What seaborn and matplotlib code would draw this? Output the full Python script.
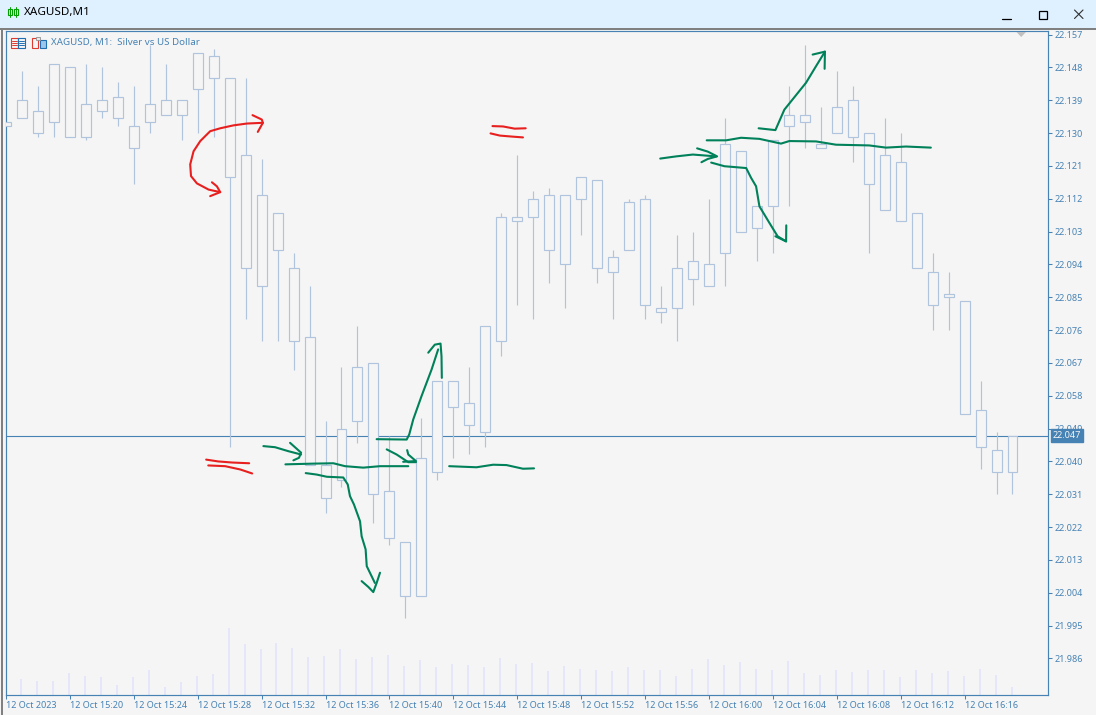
import pandas as pd
import matplotlib
matplotlib.use("Agg")
import matplotlib.pyplot as plt
from matplotlib.patches import Rectangle, Polygon
import seaborn as sns

# candles in points above 22.000 (1 point = 0.001), one bar per minute from 15:16
highs = [133, 147, 143, 149, 148, 149, 148, 144, 143, 154, 149, 139, 152, 153, 145, 145,
         123, 108, 97, 88, 51, 66, 77, 67, 47, 18, 52, 62, 62, 66, 77, 108,
         124, 114, 115, 113, 118, 117, 98, 112, 113, 88, 102, 103, 112, 134,
         125, 110, 128, 143, 154, 137, 147, 143, 130, 134, 130, 108, 97, 92, 84, 62, 48, 47]
body_top = [133, 139, 136, 149, 148, 138, 139, 140, 132, 138, 139, 139, 152, 151, 145, 124,
            113, 108, 93, 74, 39, 49, 66, 67, 32, 18, 41, 62, 62, 56, 77, 107,
            107, 112, 113, 113, 118, 117, 96, 111, 112, 82, 93, 95, 94, 127,
            125, 110, 128, 135, 135, 127, 137, 139, 130, 124, 122, 108, 92, 86, 84, 54, 43, 47]
body_bottom = [132, 134, 130, 133, 129, 129, 136, 134, 126, 133, 135, 135, 142, 145, 118, 93,
               88, 98, 73, 39, 30, 35, 51, 31, 19, 3, 3, 37, 55, 50, 48, 73,
               106, 107, 98, 94, 112, 93, 92, 98, 83, 81, 82, 90, 88, 97,
               103, 104, 110, 132, 133, 126, 130, 129, 116, 109, 106, 93, 83, 85, 53, 44, 37, 37]
lows = [132, 134, 129, 129, 129, 128, 134, 132, 116, 130, 135, 128, 130, 129, 44, 79,
        73, 73, 65, 39, 26, 33, 45, 23, 17, -3, 3, 35, 41, 42, 44, 69,
        83, 79, 89, 82, 102, 89, 79, 98, 79, 78, 73, 83, 88, 88,
        103, 95, 97, 110, 126, 126, 130, 122, 97, 109, 106, 93, 76, 76, 53, 38, 31, 31]
volumes = [0, 16, 14, 14, 22, 19, 18, 10, 18, 25, 8, 13, 19, 21, 67, 51,
           46, 52, 47, 38, 39, 46, 36, 38, 40, 29, 35, 28, 31, 30, 28, 37,
           31, 32, 24, 29, 26, 25, 24, 28, 25, 25, 19, 26, 36, 30,
           33, 26, 25, 34, 22, 20, 25, 23, 25, 25, 18, 25, 22, 24, 19, 26, 20, 8]
last_price = 22.047

price_ticks = [22.157, 22.148, 22.139, 22.130, 22.121, 22.112, 22.103, 22.094, 22.085, 22.076,
               22.067, 22.058, 22.049, 22.040, 22.031, 22.022, 22.013, 22.004, 21.995, 21.986]
time_ticks = [0, 4, 8, 12, 16, 20, 24, 28, 32, 36, 40, 44, 48, 52, 56, 60]
time_labels = ["12 Oct 2023", "12 Oct 15:20", "12 Oct 15:24", "12 Oct 15:28", "12 Oct 15:32",
               "12 Oct 15:36", "12 Oct 15:40", "12 Oct 15:44", "12 Oct 15:48", "12 Oct 15:52",
               "12 Oct 15:56", "12 Oct 16:00", "12 Oct 16:04", "12 Oct 16:08", "12 Oct 16:12",
               "12 Oct 16:16"]

# hand drawn ink, as (bar index, price)
red_ink = [
    ([16.08, 15.08, 14.24, 13.41, 12.78, 12.16, 11.74, 11.53, 11.58, 11.95, 12.68, 13.41],
     [22.1328, 22.1326, 22.1321, 22.1313, 22.1305, 22.1278, 22.1250, 22.1214, 22.1182, 22.1162, 22.1145, 22.1138]),
    ([15.43, 16.01, 16.08, 15.76], [22.1349, 22.1337, 22.1328, 22.1303]),
    ([12.89, 13.20, 13.41, 12.78], [22.1165, 22.1154, 22.1138, 22.1127]),
    ([30.45, 31.11, 31.84, 32.53], [22.1319, 22.1318, 22.1312, 22.1313]),
    ([30.33, 30.91, 31.74, 32.36], [22.1299, 22.1293, 22.1290, 22.1288]),
    ([12.53, 13.28, 14.16, 15.22], [22.0405, 22.0400, 22.0397, 22.0395]),
    ([12.66, 13.72, 14.66, 15.41], [22.0389, 22.0387, 22.0378, 22.0367]),
]
green_ink = [
    ([16.11, 16.84, 17.68, 18.47], [22.0442, 22.0439, 22.0428, 22.0419]),
    ([17.78, 18.47, 18.34, 17.99], [22.0451, 22.0424, 22.0410, 22.0403]),
    ([17.49, 19.24, 20.49, 21.22, 22.36, 23.41, 25.18],
     [22.0392, 22.0394, 22.0395, 22.0387, 22.0383, 22.0387, 22.0387]),
    ([18.76, 19.45, 20.08, 21.11, 21.39, 21.53, 21.78, 22.16, 22.26, 22.51, 22.58, 23.09],
     [22.0368, 22.0364, 22.0358, 22.0356, 22.0337, 22.0305, 22.0282, 22.0236, 22.0195, 22.0159, 22.0113, 22.0067]),
    ([22.26, 22.68, 22.99, 23.20, 23.41], [22.0072, 22.0056, 22.0042, 22.0067, 22.0095]),
    ([23.20, 25.08, 25.24, 25.49, 26.01, 26.64, 27.05],
     [22.0461, 22.0460, 22.0474, 22.0515, 22.0579, 22.0652, 22.0707]),
    ([26.43, 26.84, 27.20, 27.26, 27.28], [22.0698, 22.0720, 22.0723, 22.0688, 22.0629]),
    ([23.83, 24.45, 25.18, 25.66], [22.0433, 22.0419, 22.0398, 22.0398]),
    ([25.11, 25.18, 25.66, 24.86], [22.0431, 22.0419, 22.0401, 22.0399]),
    ([27.74, 29.45, 30.49, 31.33, 32.36, 33.05], [22.0387, 22.0384, 22.0391, 22.0390, 22.0380, 22.0381]),
    ([40.95, 41.95, 42.99, 44.45], [22.1230, 22.1236, 22.1241, 22.1236]),
    ([43.26, 43.93, 44.51, 43.93, 43.53], [22.1258, 22.1249, 22.1236, 22.1229, 22.1220]),
    ([43.86, 45.08, 46.01, 47.16, 48.51, 49.03, 50.70, 51.95, 54.03, 55.08, 56.33, 57.89],
     [22.1280, 22.1280, 22.1287, 22.1284, 22.1271, 22.1278, 22.1277, 22.1268, 22.1266, 22.1260, 22.1263, 22.1260]),
    ([44.14, 44.97, 46.33, 46.64, 46.95, 47.16, 47.78, 48.30, 48.83],
     [22.1219, 22.1209, 22.1204, 22.1177, 22.1154, 22.1099, 22.1054, 22.1017, 22.1003]),
    ([48.16, 48.83, 48.84], [22.1017, 22.1003, 22.1047]),
    ([47.11, 48.16, 48.72, 50.08, 50.70, 51.26], [22.1313, 22.1308, 22.1364, 22.1438, 22.1483, 22.1523]),
    ([50.49, 51.26, 51.24], [22.1515, 22.1523, 22.1476]),
]

BG = "#f5f5f5"
STEEL = "#4682b4"
CANDLE = "#b0c4de"
VOLUME = "#e6e6fa"
GREEN = "#00815a"
RED = "#e81f1f"
FONT = ["Noto Sans", "DejaVu Sans"]
X_LIMITS = (0.0925, 65.2225)


def to_price(points):
    return [22 + p / 1000 for p in points]


def draw_candles(ax, df):
    ax.axhline(last_price, color=STEEL, lw=0.8, zorder=1)
    ax.vlines(df["bar"], df["low"], df["high"], color=CANDLE, lw=0.85, zorder=2)
    # the fill hides the wick and the price line behind the body
    ax.bar(df["bar"], df["top"] - df["bottom"], bottom=df["bottom"], width=0.625,
           facecolor=BG, edgecolor=CANDLE, linewidth=0.85, zorder=3)


def draw_ink(ax):
    for xs, ys in red_ink:
        sns.lineplot(x=xs, y=ys, ax=ax, sort=False, estimator=None, color=RED, lw=1.5, zorder=6)
    for xs, ys in green_ink:
        sns.lineplot(x=xs, y=ys, ax=ax, sort=False, estimator=None, color=GREEN, lw=1.5, zorder=6)


def draw_window(fig):
    # title bar and icons around the chart, in screen pixels
    ui = fig.add_axes([0, 0, 1, 1], zorder=5)
    ui.set_xlim(0, 1096)
    ui.set_ylim(715, 0)
    ui.axis("off")
    ui.add_patch(Rectangle((0, 0), 1096, 27.5, fc="#dff0fe", ec="none"))
    ui.add_patch(Rectangle((0, 27.5), 1096, 2, fc="#808080", ec="none"))
    ui.add_patch(Rectangle((1, 27.5), 2, 688, fc="#808080", ec="none"))
    ui.text(24, 12.5, "XAGUSD,M1", color="black", fontsize=8.4, family=FONT, va="center")
    # candle icon
    ui.add_patch(Rectangle((8, 9), 3.5, 6, fc="none", ec="#00a000", lw=0.8))
    ui.add_patch(Rectangle((14, 9), 3.5, 6, fc="none", ec="#00a000", lw=0.8))
    ui.plot([9.7, 9.7], [7, 17], color="#00a000", lw=0.7, zorder=1)
    ui.plot([15.7, 15.7], [7, 17], color="#00a000", lw=0.7, zorder=1)
    # window buttons
    ui.plot([1002, 1011], [18.5, 18.5], color="black", lw=0.9)
    ui.add_patch(Rectangle((1038.5, 10.5), 8, 8, fc="none", ec="black", lw=0.9))
    ui.plot([1074.5, 1083], [10, 18.5], color="#303030", lw=0.8)
    ui.plot([1083, 1074.5], [10, 18.5], color="#303030", lw=0.8)
    # chart header icons and text
    ui.add_patch(Rectangle((10.5, 37.5), 7, 10, fc="none", ec="#e03a30", lw=0.8))
    ui.add_patch(Rectangle((18, 37.5), 6.5, 10, fc="none", ec="#1f6fb0", lw=0.8))
    for y in (40.5, 42.5, 45):
        ui.plot([11.5, 17], [y, y], color="#e03a30", lw=0.7)
        ui.plot([18.5, 24], [y, y], color="#1f6fb0", lw=0.7)
    ui.add_patch(Rectangle((31.5, 37.5), 6.5, 10, fc="none", ec="#e03a30", lw=0.8))
    ui.add_patch(Rectangle((39.5, 39.5), 6, 8, fc="#9cc7ea", ec="#1f6fb0", lw=0.8))
    ui.add_patch(Rectangle((36, 37), 4, 2.5, fc="#e8e8e8", ec="#909090", lw=0.6))
    ui.text(51, 42.5, "XAGUSD, M1:  Silver vs US Dollar", color=STEEL, fontsize=7,
            family=FONT, va="center")
    # small shift marker at the top of the chart
    ui.add_patch(Polygon([(1016.5, 32), (1026, 32), (1021.2, 37)], fc="#c0c0c0", ec="none"))


def main():
    sns.set_theme(style="white", rc={"axes.facecolor": BG, "figure.facecolor": BG})
    plt.rcParams["font.family"] = FONT

    df = pd.DataFrame({"bar": range(len(highs)), "high": to_price(highs), "top": to_price(body_top),
                       "bottom": to_price(body_bottom), "low": to_price(lows), "volume": volumes})

    fig = plt.figure(figsize=(10.96, 7.15), dpi=100)
    ax = fig.add_axes([6 / 1096, 20 / 715, 1042 / 1096, 664 / 715], zorder=2)
    ax.patch.set_visible(False)
    ax_vol = fig.add_axes(ax.get_position(), zorder=1)

    # tick volumes along the floor of the same panel
    sns.barplot(data=df, x="bar", y="volume", ax=ax_vol, native_scale=True, width=0.125,
                color=VOLUME, saturation=1, linewidth=0)
    ax_vol.set_xlim(*X_LIMITS)
    ax_vol.set_ylim(0, 664)
    ax_vol.set_xticks([])
    ax_vol.set_yticks([])
    ax_vol.set_xlabel("")
    ax_vol.set_ylabel("")
    for s in ax_vol.spines.values():
        s.set_visible(False)

    draw_candles(ax, df)
    draw_ink(ax)

    ax.set_xlim(*X_LIMITS)
    ax.set_ylim(22.157 - 660.5 / 3649, 22.157 + 3.5 / 3649)
    ax.yaxis.tick_right()
    ax.set_yticks(price_ticks)
    ax.set_yticklabels([f"{p:.3f}" for p in price_ticks])
    ax.set_xticks(time_ticks)
    ax.set_xticklabels(time_labels, ha="left")
    ax.tick_params(axis="x", length=3, width=0.75, color=STEEL, labelcolor=STEEL, labelsize=6.5, pad=1.2,
                   bottom=True)
    ax.tick_params(axis="y", length=3, width=0.75, color=STEEL, labelcolor=STEEL, labelsize=6.5, pad=1.6,
                   right=True, left=False)
    for s in ax.spines.values():
        s.set_visible(True)
        s.set_color(STEEL)
        s.set_linewidth(0.85)

    # current price tag covers the tick label below it
    ax.text(1 + 5 / 1042, last_price, f"{last_price:.3f}", transform=ax.get_yaxis_transform(), color=BG,
            fontsize=6.5, va="center", ha="left", zorder=10, clip_on=False,
            bbox=dict(facecolor=STEEL, edgecolor=STEEL, pad=1.4))

    draw_window(fig)
    fig.savefig("out.png", dpi=100)


if __name__ == "__main__":
    main()
